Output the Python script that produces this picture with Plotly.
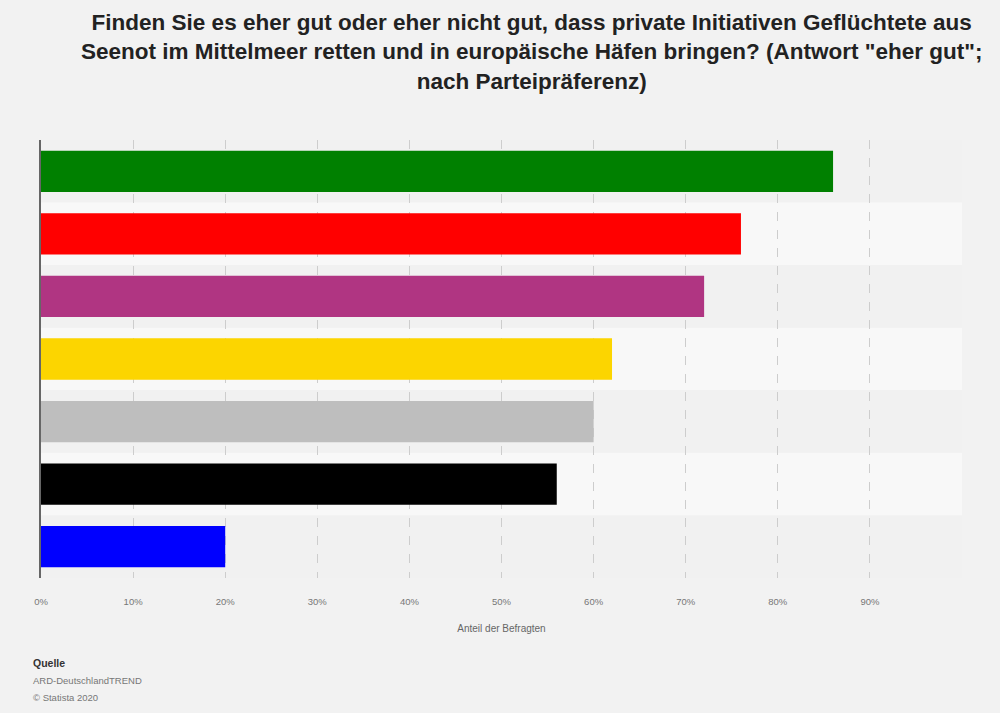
import plotly.graph_objects as go

categories = ["Grüne", "SPD", "Linke", "FDP", "Gesamt", "CDU/CSU", "AfD"]
values = [86, 76, 72, 62, 60, 56, 20]
colors = ["#008000", "#ff0000", "#b03582", "#fcd500", "#bebebe", "#000000", "#0000ff"]
tick_vals = [0, 10, 20, 30, 40, 50, 60, 70, 80, 90, 100]
tick_text = ["0%", "10%", "20%", "30%", "40%", "50%", "60%", "70%", "80%", "90%", ""]

title = ("Finden Sie es eher gut oder eher nicht gut, dass private Initiativen Geflüchtete aus<br>"
         "Seenot im Mittelmeer retten und in europäische Häfen bringen? (Antwort \"eher gut\";<br>"
         "nach Parteipräferenz)")
source_lines = ["ARD-DeutschlandTREND", "© Statista 2020"]

fig = go.Figure()
fig.add_trace(go.Bar(
    x=values, y=categories, orientation="h",
    marker=dict(color=colors, line=dict(width=0)),
    width=0.66, hoverinfo="x+y",
))

shapes = []
for i, c in enumerate(categories):
    shapes.append(dict(
        type="rect", xref="x", yref="y", layer="below",
        x0=0, x1=100, y0=i - 0.5, y1=i + 0.5,
        fillcolor="#f1f1f1" if i % 2 == 0 else "#f8f8f8",
        line=dict(width=0),
    ))

PH = 713 - 140 - 135  # plot height in px


def py(px):
    # paper y for a pixel row from top
    return 1 + (140 - px) / PH


annotations = [
    dict(text="<b>" + title + "</b>", xref="paper", yref="paper", x=0.533, y=py(8),
         xanchor="center", yanchor="top", showarrow=False, align="center",
         font=dict(size=22.5, color="#222")),
    dict(text="<b>Quelle</b>", xref="paper", yref="paper", x=-0.011, y=py(655),
         xanchor="left", yanchor="top", showarrow=False, font=dict(size=10.5, color="#333")),
]
for k, line in enumerate(source_lines):
    annotations.append(dict(
        text=line, xref="paper", yref="paper", x=-0.011, y=py(673 + 17 * k),
        xanchor="left", yanchor="top", showarrow=False, font=dict(size=9.5, color="#777")))

fig.update_layout(
    width=1000, height=713,
    paper_bgcolor="#f2f2f2", plot_bgcolor="#f2f2f2",
    margin=dict(l=41, r=38, t=140, b=135),
    showlegend=False,
    shapes=shapes,
    font=dict(family="Liberation Sans, Arial, sans-serif", color="#333"),
    annotations=annotations,
)
fig.update_xaxes(
    range=[0, 100], tickvals=tick_vals, ticktext=tick_text,
    showgrid=True, gridcolor="#cdcdcd", griddash="dash", gridwidth=1,
    zeroline=False, showline=False, ticks="",
    tickfont=dict(size=9.5, color="#777"), ticklabelstandoff=16,
    title=dict(text="Anteil der Befragten", font=dict(size=10, color="#666"), standoff=19),
    fixedrange=True,
)
fig.update_yaxes(
    range=[6.5, -0.5], showticklabels=False, showgrid=False, zeroline=False,
    showline=True, linecolor="#666", linewidth=1.5, ticks="", fixedrange=True,
)

fig.write_html("out.html", config={"displayModeBar": False},
               post_script="document.body.style.margin='0';document.body.style.background='#f2f2f2';")
